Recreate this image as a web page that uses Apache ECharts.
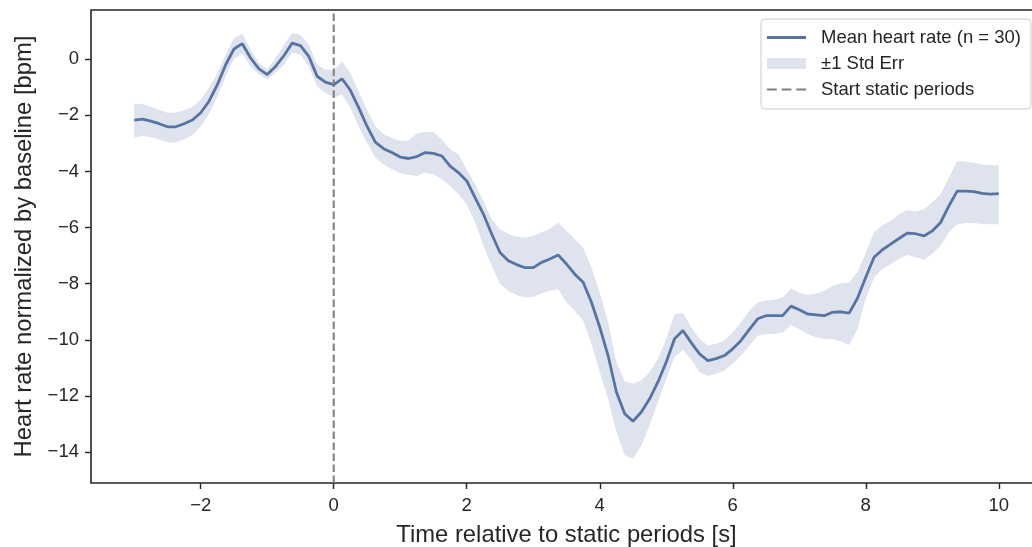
<!DOCTYPE html>
<html>
<head>
<meta charset="utf-8">
<script src="https://cdn.jsdelivr.net/npm/echarts@6/dist/echarts.min.js"></script>
<style>
  html, body { margin: 0; padding: 0; background: #fff; }
  #chart { width: 1032px; height: 547px; }
</style>
</head>
<body>
<div id="chart"></div>
<script>
// time relative to static periods [s], sampled every 0.125 s
const timeSec = [
  -3, -2.875, -2.75, -2.625, -2.5, -2.375, -2.25, -2.125, -2, -1.875, -1.75, -1.625, -1.5, -1.375, -1.25, -1.125,
  -1, -0.875, -0.75, -0.625, -0.5, -0.375, -0.25, -0.125, 0, 0.125, 0.25, 0.375, 0.5, 0.625, 0.75, 0.875,
  1, 1.125, 1.25, 1.375, 1.5, 1.625, 1.75, 1.875, 2, 2.125, 2.25, 2.375, 2.5, 2.625, 2.75, 2.875,
  3, 3.125, 3.25, 3.375, 3.5, 3.625, 3.75, 3.875, 4, 4.125, 4.25, 4.375, 4.5, 4.625, 4.75, 4.875,
  5, 5.125, 5.25, 5.375, 5.5, 5.625, 5.75, 5.875, 6, 6.125, 6.25, 6.375, 6.5, 6.625, 6.75, 6.875,
  7, 7.125, 7.25, 7.375, 7.5, 7.625, 7.75, 7.875, 8, 8.125, 8.25, 8.375, 8.5, 8.625, 8.75, 8.875,
  9, 9.125, 9.25, 9.375, 9.5, 9.625, 9.75, 9.875, 10
]
const meanHr = [
  -2.17, -2.14, -2.21, -2.30, -2.41, -2.41, -2.30, -2.17, -1.91, -1.50, -0.91, -0.20, 0.36, 0.55, 0.04, -0.35,
  -0.55, -0.26, 0.12, 0.57, 0.48, 0.10, -0.61, -0.82, -0.91, -0.70, -1.11, -1.73, -2.39, -2.96, -3.19, -3.33,
  -3.49, -3.54, -3.47, -3.33, -3.36, -3.45, -3.81, -4.04, -4.34, -4.93, -5.52, -6.23, -6.89, -7.18, -7.32, -7.43,
  -7.43, -7.24, -7.12, -6.98, -7.30, -7.66, -7.95, -8.66, -9.55, -10.56, -11.86, -12.63, -12.90, -12.57, -12.10, -11.50,
  -10.79, -9.96, -9.67, -10.10, -10.50, -10.74, -10.67, -10.56, -10.32, -10.02, -9.63, -9.25, -9.14, -9.14, -9.14, -8.80,
  -8.93, -9.08, -9.11, -9.14, -9.02, -9.00, -9.05, -8.52, -7.77, -7.06, -6.79, -6.59, -6.39, -6.20, -6.22, -6.30,
  -6.12, -5.82, -5.23, -4.70, -4.70, -4.72, -4.78, -4.81, -4.79
]
const upperHr = [
  -1.59, -1.61, -1.70, -1.80, -1.91, -1.91, -1.82, -1.70, -1.44, -1.02, -0.49, 0.16, 0.75, 0.91, 0.34, -0.14,
  -0.37, 0.04, 0.51, 0.93, 0.87, 0.51, -0.20, -0.37, -0.40, -0.08, -0.49, -1.14, -1.80, -2.39, -2.68, -2.80,
  -2.92, -2.90, -2.65, -2.60, -2.60, -2.86, -3.21, -3.39, -3.93, -4.46, -5.05, -5.70, -6.06, -6.23, -6.33, -6.35,
  -6.30, -6.17, -6.05, -5.82, -6.12, -6.41, -6.71, -7.42, -8.31, -9.37, -10.79, -11.48, -11.56, -11.45, -11.15, -10.67,
  -9.96, -9.08, -9.04, -9.55, -9.96, -10.20, -10.14, -10.02, -9.73, -9.37, -8.96, -8.66, -8.60, -8.57, -8.49, -8.17,
  -8.31, -8.39, -8.36, -8.25, -8.07, -7.98, -7.96, -7.59, -6.89, -6.17, -5.92, -5.76, -5.52, -5.38, -5.42, -5.35,
  -5.11, -4.81, -4.22, -3.63, -3.66, -3.69, -3.75, -3.78, -3.78
]
const lowerHr = [
  -2.80, -2.74, -2.77, -2.86, -2.96, -2.97, -2.85, -2.70, -2.40, -1.95, -1.35, -0.60, 0.00, 0.20, -0.25, -0.55,
  -0.72, -0.49, -0.20, 0.24, 0.16, -0.26, -0.97, -1.20, -1.38, -1.26, -1.73, -2.39, -2.98, -3.51, -3.75, -3.92,
  -4.07, -4.12, -4.16, -4.04, -4.10, -4.28, -4.52, -4.81, -5.17, -5.82, -6.65, -7.36, -8.01, -8.25, -8.40, -8.49,
  -8.47, -8.35, -8.25, -8.20, -8.66, -8.96, -9.31, -10.14, -11.15, -12.10, -13.28, -14.11, -14.23, -13.76, -13.04, -12.21,
  -11.39, -10.61, -10.36, -10.70, -11.15, -11.29, -11.21, -11.09, -10.85, -10.56, -10.20, -9.85, -9.79, -9.79, -9.75, -9.47,
  -9.61, -9.79, -9.91, -9.96, -9.98, -10.06, -10.18, -9.61, -8.54, -7.77, -7.48, -7.30, -7.12, -6.98, -7.06, -7.15,
  -6.94, -6.65, -6.17, -5.88, -5.84, -5.84, -5.87, -5.88, -5.88
]
const xTicks = [-2, 0, 2, 4, 6, 8, 10]
const yTicks = [-14, -12, -10, -8, -6, -4, -2, 0]
const xRange = [-3.65, 10.65]
const yRange = [-15.1, 1.75]
const staticStart = 0

const lineColor = '#5574a2'
const bandColor = '#dee3ed'
const dashColor = '#7f7f7f'
const textColor = '#262626'
const fontName = '"Liberation Sans", Arial, sans-serif'

const minusFmt = v => String(v).replace('-', '\u2212')

const bandData = timeSec.map((t, i) => [t, lowerHr[i], upperHr[i]])
const meanData = timeSec.map((t, i) => [t, meanHr[i]])

// the std err band is one polygon: upper edge left to right, lower edge back
function renderBand (params, api) {
  if (params.dataIndex !== 0) return
  const top = timeSec.map((t, i) => api.coord([t, upperHr[i]]))
  const bottom = timeSec.map((t, i) => api.coord([t, lowerHr[i]])).reverse()
  return {
    type: 'polygon',
    shape: { points: top.concat(bottom) },
    style: { fill: bandColor },
    silent: true
  }
}

const chartInstance = echarts.init(document.getElementById('chart'))
const option = {
  animation: false,
  grid: {
    left: 91,
    top: 10,
    width: 951, // the right spine sits just outside the picture
    bottom: 64,
    outerBoundsMode: 'none',
    show: true,
    borderColor: textColor,
    borderWidth: 1.6,
    backgroundColor: '#fff'
  },
  legend: {
    orient: 'vertical',
    left: 761,
    top: 19,
    padding: [9, 10, 10, 6],
    itemGap: 7,
    itemWidth: 39,
    itemHeight: 11,
    backgroundColor: '#fff',
    borderColor: '#cccccc',
    borderWidth: 1,
    borderRadius: 4,
    textStyle: { fontSize: 18.5, color: textColor, fontFamily: fontName, padding: [0, 0, 0, 10] },
    data: [
      { name: 'Mean heart rate (n = 30)', icon: 'path://M0,0h39v2.8h-39z' },
      { name: '±1 Std Err', icon: 'rect' },
      { name: 'Start static periods', icon: 'path://M0,0h9.5v2h-9.5z M14.25,0h9.5v2h-9.5z M28.5,0h9.5v2h-9.5z' }
    ]
  },
  xAxis: {
    type: 'value',
    min: xRange[0],
    max: xRange[1],
    name: 'Time relative to static periods [s]',
    nameLocation: 'middle',
    nameGap: 40,
    nameTextStyle: { fontSize: 23.8, color: textColor, fontFamily: fontName },
    splitLine: { show: false },
    axisLine: { show: false, onZero: false },
    axisTick: { customValues: xTicks, length: 6, lineStyle: { color: textColor, width: 1.4 } },
    axisLabel: { customValues: xTicks, formatter: minusFmt, margin: 13, fontSize: 18.5, color: textColor, fontFamily: fontName }
  },
  yAxis: {
    type: 'value',
    min: yRange[0],
    max: yRange[1],
    name: 'Heart rate normalized by baseline [bpm]',
    nameLocation: 'middle',
    nameGap: 55,
    nameTextStyle: { fontSize: 23.8, color: textColor, fontFamily: fontName },
    splitLine: { show: false },
    axisLine: { show: false, onZero: false },
    axisTick: { customValues: yTicks, length: 6, lineStyle: { color: textColor, width: 1.4 } },
    axisLabel: { customValues: yTicks, formatter: minusFmt, margin: 12, fontSize: 18.5, color: textColor, fontFamily: fontName }
  },
  series: [
    {
      name: '±1 Std Err',
      type: 'custom',
      data: bandData,
      encode: { x: 0, y: [1, 2] },
      renderItem: renderBand,
      itemStyle: { color: bandColor },
      clip: true,
      silent: true,
      z: 1
    },
    {
      name: 'Mean heart rate (n = 30)',
      type: 'line',
      data: meanData,
      symbol: 'none',
      itemStyle: { color: lineColor },
      lineStyle: { color: lineColor, width: 2.8 },
      z: 3
    },
    {
      name: 'Start static periods',
      type: 'line',
      data: [[staticStart, yRange[0]], [staticStart, yRange[1]]],
      symbol: 'none',
      itemStyle: { color: dashColor },
      lineStyle: { color: dashColor, width: 2, type: [7.5, 3.5] },
      z: 4
    }
  ]
}
chartInstance.setOption(option)
</script>
</body>
</html>
